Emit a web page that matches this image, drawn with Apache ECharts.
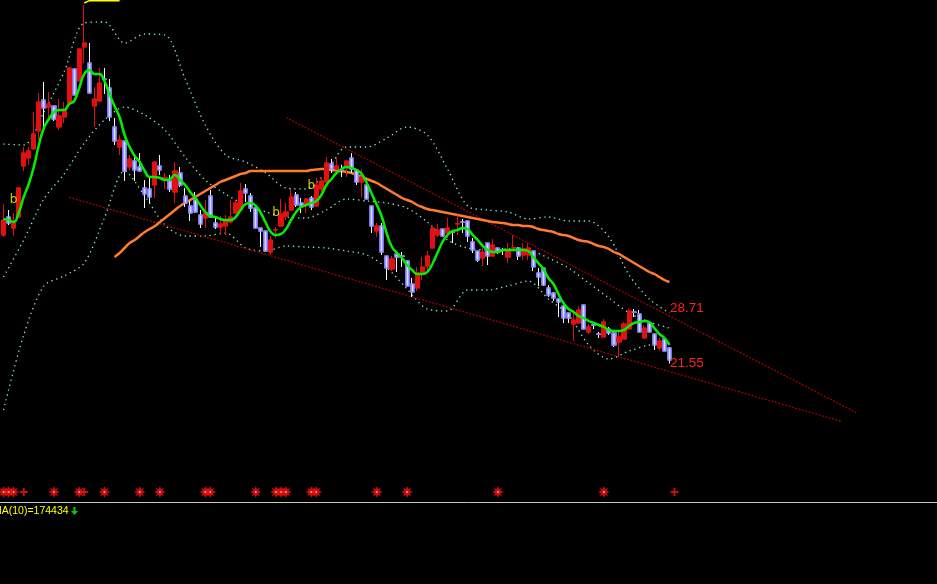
<!DOCTYPE html>
<html>
<head>
<meta charset="utf-8">
<script src="https://cdn.jsdelivr.net/npm/echarts@6/dist/echarts.min.js"></script>
<style>
  html, body { margin: 0; padding: 0; background: #000; }
  #main { width: 937px; height: 584px; }
</style>
</head>
<body>
<div id="main"></div>
<script>
// price candles
const opens = [38.25,40.59,39.16,40.59,47.22,48.26,49.43,51.77,55.8,54.89,55.02,52.29,53.59,55.41,59.83,58.27,62.69,60.61,55.02,55.67,
  58.53,57.36,52.29,49.69,50.47,47.09,47.87,47.09,44.36,44.23,44.75,47.22,45.66,45.27,43.84,46.31,43.32,42.02,42.93,40.85,
  40.46,43.32,39.81,39.29,39.42,39.94,41.11,41.5,44.23,43.32,41.76,39.16,38.77,36.04,38.9,39.42,40.72,41.5,43.45,42.41,
  42.15,43.06,42.02,44.23,45.14,47.48,46.83,46.7,47.09,48.26,46.7,45.14,44.75,42.02,38.77,39.42,35.52,33.83,35.78,35.52,
  34.87,31.88,31.36,33.18,34.22,36.56,38.25,39.03,38.51,38.64,39.68,39.94,40.07,37.34,36.17,35.26,37.21,35.52,36.56,36.3,
  35.39,36.56,36.56,35.65,35.65,36.17,33.31,33.96,31.36,30.71,29.93,29.02,28.11,26.68,26.81,29.15,25.64,26.55,25.38,24.99,
  26.03,25.51,24.34,24.73,26.03,28.24,27.98,24.86,26.81,25.38,23.56,24.73,23.56];
const closes = [40.2,39.81,39.81,44.36,48.91,49.17,51.38,55.54,54.76,55.28,53.33,53.72,54.37,59.96,56.45,62.43,63.21,56.71,55.93,58.01,
  58.45,53.59,50.47,50.6,46.57,48.13,46.7,46.57,43.58,43.19,47.74,46.7,45.72,44.23,46.57,44.75,42.41,41.11,41.24,39.68,
  41.11,40.59,39.29,39.68,40.2,40.59,42.41,43.97,43.71,41.76,39.16,38.77,36.17,37.6,38.96,40.98,41.24,43.19,42.15,42.02,
  42.93,41.89,44.75,45.27,47.61,46.83,47.22,46.65,47.87,46.83,45.14,45.79,42.93,39.42,39.42,36.04,33.96,35.13,35.39,35.47,
  31.62,30.84,33.31,34.09,35.52,39.16,38.9,38.12,39.16,38.6,39.74,39.9,38.12,36.3,35.0,36.04,35.52,36.95,36.17,36.26,
  36.3,36.62,35.52,36.43,36.56,34.09,32.79,31.75,30.45,30.06,29.54,27.46,27.46,27.2,28.5,26.03,26.29,26.51,25.34,26.94,
  25.51,23.95,24.99,26.68,28.37,28.2,25.64,26.16,25.64,23.95,24.47,23.17,22.0];
const lows = [37.99,39.55,38.12,40.59,46.57,47.35,49.43,50.6,52.29,53.59,53.07,51.9,52.81,55.41,56.45,58.27,60.61,56.71,52.29,55.67,
  56.58,53.07,49.95,48.65,45.27,46.7,45.27,46.57,41.76,42.41,43.06,46.05,44.23,43.84,42.41,44.49,41.89,40.07,41.11,39.16,
  39.16,40.59,39.03,38.25,38.25,39.81,41.11,41.5,42.54,41.24,39.16,36.69,36.17,35.65,37.86,39.42,40.2,41.5,41.89,41.11,
  41.11,41.5,42.02,43.84,45.14,46.31,46.7,45.79,45.79,46.31,44.75,43.19,42.93,38.51,37.99,35.65,32.4,33.57,33.44,34.09,
  31.62,30.19,30.97,32.4,33.7,36.56,37.99,38.12,37.86,37.21,38.25,38.51,37.34,35.91,34.74,34.22,34.35,35.52,35.78,35.65,
  34.61,36.3,35.0,35.0,35.0,33.57,31.62,31.62,30.19,29.67,27.59,26.81,26.81,24.47,26.81,26.03,25.38,26.03,24.86,24.99,
  25.25,23.69,22.39,24.73,26.03,27.59,25.64,24.86,25.64,23.3,23.17,23.17,21.55];
const highs = [42.28,41.5,41.11,44.49,49.69,49.69,54.24,56.71,58.14,56.84,55.02,55.93,55.54,59.96,59.83,62.43,68.15,63.21,57.49,59.96,
  59.96,58.53,53.46,51.25,50.47,48.65,48.52,48.91,45.4,45.66,47.74,48.65,46.31,46.05,47.74,47.09,44.36,42.67,43.84,41.5,
  42.8,44.1,40.46,40.72,40.85,42.8,42.8,45.01,44.88,43.71,41.76,39.16,38.77,38.12,39.29,42.93,42.41,44.23,43.84,43.06,
  43.06,43.32,45.66,45.79,48.39,48.13,48.39,47.35,47.87,48.91,46.83,46.83,44.75,42.02,39.81,39.81,35.52,35.52,35.78,36.04,
  34.87,32.66,34.09,35.39,36.17,39.16,39.68,39.03,40.46,38.9,40.85,40.33,40.07,37.86,36.17,36.56,37.21,37.73,36.56,36.56,
  37.21,38.25,36.69,37.21,37.21,36.17,33.96,33.96,31.75,30.84,29.93,29.02,28.11,28.5,29.02,29.15,26.68,26.81,25.64,27.33,
  26.29,25.64,25.9,26.94,28.71,28.63,28.5,26.55,26.81,25.38,24.86,24.73,23.69];

// short moving average (green)
const maShort = [40.33,40.2,39.94,41.11,43.19,44.88,47.09,49.95,52.16,53.33,
  54.24,54.5,54.5,55.28,55.67,57.36,59.18,59.7,59.18,59.18,
  58.27,56.58,55.02,53.59,51.25,49.69,48.52,47.74,46.57,45.79,
  45.79,45.66,45.4,45.53,46.05,45.4,44.75,43.84,43.06,42.15,
  41.24,40.72,40.59,40.33,40.2,40.2,40.59,41.5,42.28,42.41,
  42.02,41.11,39.81,38.64,38.25,38.38,39.03,40.2,41.24,41.89,
  42.15,42.41,42.67,43.45,44.75,45.53,46.31,46.83,47.09,46.96,
  46.7,46.18,45.01,43.58,42.15,40.59,38.38,36.69,35.91,35.26,
  34.35,33.7,33.18,33.18,33.44,34.48,35.91,37.34,38.25,38.77,
  38.9,39.16,39.03,38.25,37.6,36.82,36.3,36.04,36.04,36.3,
  36.3,36.3,36.3,36.3,36.17,35.39,34.61,33.83,32.66,31.88,
  30.58,29.41,28.63,28.24,27.72,27.46,27.07,26.81,26.55,26.29,
  25.9,25.77,25.77,25.9,26.42,26.81,26.94,27.07,26.94,26.16,
  25.38,24.86,23.95];

// long moving average (orange), starts at candle 22
const maLong = [null,null,null,null,null,null,null,null,null,null,null,null,null,null,null,null,null,null,null,null,null,null,
  35.39,35.91,36.56,37.21,37.6,38.12,38.64,39.03,39.42,39.94,40.46,40.98,41.5,42.02,42.41,42.8,43.19,43.58,43.97,44.36,
  44.75,45.14,45.4,45.66,45.92,46.18,46.31,
  46.57,46.57,46.57,46.57,46.57,46.57,46.57,46.57,46.57,46.57,46.57,46.57,
  46.7,46.77,46.83,46.83,46.7,46.64,46.57,46.44,46.31,46.05,
  45.79,45.53,45.27,45.01,44.62,44.23,43.84,43.45,43.06,42.8,
  42.54,42.15,41.89,41.63,41.5,41.37,41.24,41.11,40.98,40.85,
  40.72,40.59,40.46,40.33,40.2,40.07,39.94,39.88,39.81,39.68,
  39.55,39.55,39.42,39.42,39.29,39.03,38.9,38.77,38.64,38.38,
  38.25,38.12,37.86,37.6,37.47,37.34,37.08,36.82,36.69,36.43,
  36.04,35.78,35.39,35.0,34.61,34.22,33.83,33.44,33.18,32.79,
  32.4,32.14];

// dotted bands, one reading every 4th candle
const bandStep = 4;
const bandUp = [50.08,49.95,54.24,59.44,65.81,65.94,63.21,64.38,64.25,58.53,52.55,48.65,47.74,46.31,44.36,44.23,46.44,
  49.69,49.69,50.86,52.29,51.25,46.83,42.02,41.5,41.24,40.33,40.59,40.07,40.07,37.99,33.05,29.93,28.11];
const bandMid = [32.79,37.6,42.93,46.18,50.21,53.2,54.89,53.85,51.9,48.39,45.4,43.58,42.15,41.24,40.59,40.46,41.5,
  42.93,42.67,42.41,41.76,39.94,37.6,36.56,36.3,36.43,36.3,35.26,33.96,32.01,30.06,28.11,26.94,26.16];
const bandLow = [15.5,25.25,31.62,32.92,34.61,40.46,46.57,43.32,39.55,38.12,38.12,38.51,36.56,36.17,36.82,36.69,36.56,
  36.17,35.65,33.96,31.23,28.63,28.37,31.1,31.1,31.62,32.27,29.93,27.85,23.95,22.13,23.17,23.95,24.21];

// trend lines [candle index, price]
const trendUpper = [[56, 53.53], [169, 15.16]];
const trendLower = [[13, 43.15], [166, 14.03]];

// buy marks "b"
const buyMarks = [[2, 42.8], [54, 41.11], [61, 44.62]];

// signal row at the bottom
const signalLevel = 4.84;
const starIdx = [0, 1, 2, 10, 15, 20, 27, 31, 40, 41, 50, 54, 55, 56, 61, 62, 74, 80, 98, 119];
const plusIdx = [4, 16, 133];

const highMark = [[16, 68.41], [17, 68.71], [23, 68.71]];
const priceLabels = [[28.71, 132], [21.55, 132]];

const catCount = 185;
const categories = Array.from({ length: catCount }, (_, i) => String(i));

const candleData = opens.map((o, i) => [o, closes[i], lows[i], highs[i]]);
// bodies only, drawn over the white wicks
const bodyData = opens.map((o, i) => [o, closes[i], Math.min(o, closes[i]), Math.max(o, closes[i])]);
const toPairs = (arr) => arr.map((v, i) => [i * bandStep, v]);

const starPath = 'path://M10 5 L7.2 6.1 L8.54 8.54 L6.1 7.2 L5 10 L3.9 7.2 L1.46 8.54 L2.8 6.1 L0 5 L2.8 3.9 L1.46 1.46 L3.9 2.8 L5 0 L6.1 2.8 L8.54 1.46 L7.2 3.9 Z';
const plusPath = 'path://M3 0h2v3h3v2h-3v3h-2v-3h-3v-2h3z';

const bandStyle = {
  type: 'line',
  smooth: 0.3,
  showSymbol: false,
  silent: true,
  z: 1,
  lineStyle: { color: '#8af0c8', width: 1.3, type: [1.3, 3.7] },
};

const trendStyle = {
  type: 'line',
  showSymbol: false,
  silent: true,
  z: 1,
  lineStyle: { color: '#a00000', width: 1.3, type: [2, 1.5] },
};

const downFill = new echarts.graphic.LinearGradient(0, 0, 1, 0, [
  { offset: 0, color: '#4646ff' },
  { offset: 0.5, color: '#dcdcff' },
  { offset: 1, color: '#4646ff' },
]);

const option = {
  backgroundColor: '#000',
  animation: false,
  grid: { left: 1, right: 2.7, top: 0, height: 502 },
  xAxis: {
    type: 'category',
    data: categories,
    axisLine: { show: false },
    axisTick: { show: false },
    axisLabel: { show: false },
    splitLine: { show: false },
  },
  yAxis: {
    type: 'value',
    min: 3.54,
    max: 68.8,
    show: false,
    splitLine: { show: false },
  },
  series: [
    { ...bandStyle, name: 'UB', data: toPairs(bandUp) },
    { ...bandStyle, name: 'BOLL', data: toPairs(bandMid) },
    { ...bandStyle, name: 'LB', data: toPairs(bandLow) },
    { ...trendStyle, name: 't1', data: trendUpper },
    { ...trendStyle, name: 't2', data: trendLower },
    {
      name: 'MA60',
      type: 'line',
      data: maLong,
      showSymbol: false,
      smooth: true,
      z: 2,
      lineStyle: { color: '#ff7b2e', width: 2.5 },
    },
    {
      name: 'K',
      type: 'candlestick',
      data: candleData,
      barWidth: 4.6,
      z: 3,
      itemStyle: {
        color: '#e41010',
        borderColor: '#e41010',
        color0: downFill,
        borderColor0: '#ffffff',
        borderWidth: 1,
      },
      markPoint: {
        symbol: 'circle',
        symbolSize: 1,
        itemStyle: { color: 'rgba(0,0,0,0)' },
        label: {
          show: true,
          position: 'right',
          distance: 0,
          color: '#ff2020',
          fontSize: 13.5,
          fontFamily: 'Liberation Sans Narrow, Liberation Sans, sans-serif',
        },
        data: priceLabels.map(([v, at]) => ({ coord: [at, v], value: v.toFixed(2) })),
      },
    },
    {
      name: 'Kbody',
      type: 'candlestick',
      data: bodyData,
      barWidth: 4.6,
      z: 3,
      silent: true,
      itemStyle: {
        color: '#e41010',
        borderColor: '#e41010',
        color0: downFill,
        borderColor0: '#7474ff',
        borderWidth: 1,
      },
    },
    {
      name: 'MA5',
      type: 'line',
      data: maShort,
      showSymbol: false,
      smooth: true,
      z: 4,
      lineStyle: { color: '#00f000', width: 2.5 },
    },
    {
      name: 'high',
      type: 'line',
      data: highMark,
      showSymbol: false,
      z: 4,
      lineStyle: { color: '#ffff00', width: 1.5 },
    },
    {
      name: 'buy',
      type: 'scatter',
      data: buyMarks,
      symbolSize: 0,
      z: 5,
      label: {
        show: true,
        position: 'inside',
        formatter: 'b',
        color: '#ffff00',
        fontSize: 12,
        fontFamily: 'DejaVu Sans, sans-serif',
      },
    },
    {
      name: 'sig',
      type: 'scatter',
      data: starIdx.map((i) => [i, signalLevel]),
      symbol: starPath,
      symbolSize: 12,
      z: 5,
      itemStyle: { color: '#ff1010' },
    },
    {
      name: 'sigDot',
      type: 'scatter',
      data: starIdx.map((i) => [i, signalLevel]),
      symbol: 'rect',
      symbolSize: 1.5,
      z: 6,
      itemStyle: { color: '#ffffff' },
    },
    {
      name: 'sig2',
      type: 'scatter',
      data: plusIdx.map((i) => [i, signalLevel]),
      symbol: plusPath,
      symbolSize: 8,
      z: 5,
      itemStyle: { color: '#ff1010' },
    },
  ],
  graphic: [
    {
      type: 'line',
      shape: { x1: 0, y1: 502.5, x2: 937, y2: 502.5 },
      style: { stroke: '#c8c8c8', lineWidth: 1 },
    },
    {
      type: 'text',
      left: -7,
      top: 506,
      style: {
        text: 'MA(10)=174434',
        fill: '#ffff00',
        font: '10.5px Liberation Sans, sans-serif',
      },
    },
    {
      type: 'polygon',
      shape: { points: [[73.5, 507], [75.5, 507], [75.5, 511], [78, 511], [74.5, 515], [71, 511], [73.5, 511]] },
      style: { fill: '#00d000' },
    },
  ],
};

const chart = echarts.init(document.getElementById('main'));
chart.setOption(option);
</script>
</body>
</html>
